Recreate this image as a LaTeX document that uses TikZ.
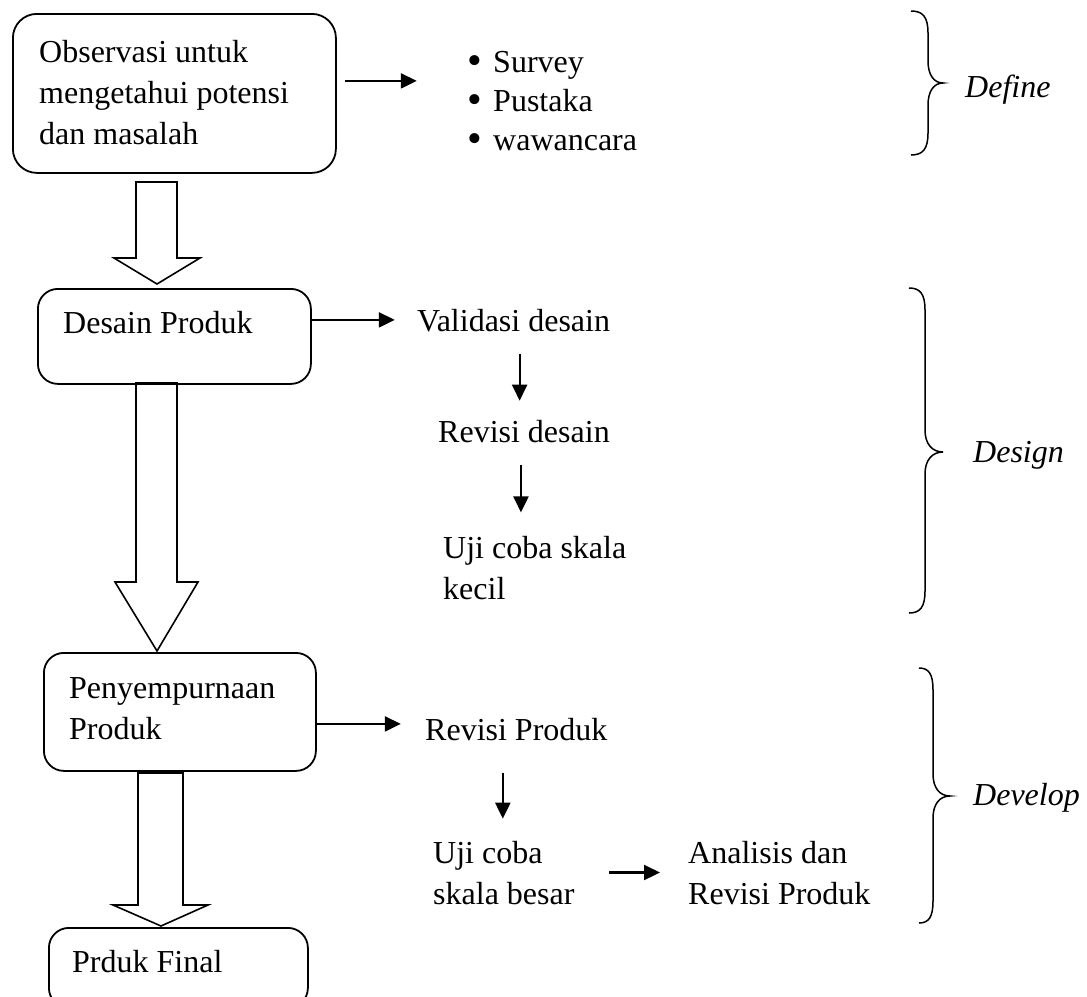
\documentclass[tikz,border=0pt]{standalone}
\usepackage{fontspec}
\setmainfont{Liberation Serif}
\usetikzlibrary{arrows.meta,calc}
\newcommand\mybrace[6]{% #1 end x, #2 stem x, #3 tip x, #4 top, #5 mid, #6 bottom
  \draw[brc] (#1,#4) .. controls ({#1+0.7*(#2-#1)},#4) and (#2,{#4+6}) .. (#2,{#4+22})
    -- (#2,{#5-22}) .. controls (#2,{#5-8}) and ({#2+0.4*(#3-#2)},#5) .. (#3,#5)
    .. controls ({#2+0.4*(#3-#2)},#5) and (#2,{#5+8}) .. (#2,{#5+22})
    -- (#2,{#6-22}) .. controls (#2,{#6-6}) and ({#1+0.7*(#2-#1)},#6) .. (#1,#6);}
\newcommand\bigbul{\raisebox{-2.5pt}{\fontsize{42}{39}\selectfont •}\hspace{10.7pt}}
\begin{document}
\begin{tikzpicture}[x=1pt,y=-1pt,
  box/.style={draw, line width=1.8pt, rounded corners=20pt, anchor=north west, inner sep=0pt},
  txt/.style={inner sep=0pt, anchor=north west, align=left, font=\fontsize{32}{41}\selectfont},
  lab/.style={inner sep=0pt, anchor=base west, font=\fontsize{32}{41}\selectfont\itshape},
  arr/.style={line width=2.2pt, -{Triangle[length=16pt,width=15pt]}},
  hol/.style={draw, line width=1.6pt, fill=white, line join=miter},
  brc/.style={line width=1.5pt}]
\useasboundingbox (0,0) rectangle (1087,996);
\clip (0,0) rectangle (1087,996);

% hollow arrows
\draw[hol] (136,182) -- (177,182) -- (177,258) -- (200,258) -- (157,284) -- (114,258) -- (136,258) -- cycle;
\draw[hol] (136,383) -- (177,383) -- (177,582) -- (198,582) -- (157,651) -- (115,582) -- (136,582) -- cycle;
\draw[hol] (138,773) -- (183,773) -- (183,905) -- (208,905) -- (161,926) -- (113,905) -- (138,905) -- cycle;

% boxes
\node[box, rounded corners=24pt, minimum width=323pt, minimum height=159pt] (b1) at (12,13) {};
\node[box, minimum width=273pt, minimum height=95pt] (b2) at (37,288) {};
\node[box, minimum width=272pt, minimum height=118pt] (b3) at (43,652) {};
\node[box, minimum width=259pt, minimum height=80pt] (b4) at (48,927) {};

% box texts
\node[txt] (t1) at (39,33.3) {\strut Observasi untuk\\mengetahui potensi\\dan masalah};
\node[txt] (t2) at (63,304.3) {\strut Desain Produk};
\node[txt] (t3) at (69,669.3) {\strut Penyempurnaan\\Produk};
\node[txt] (t4) at (72,943.3) {\strut Prduk Final};

% right texts
\node[txt, font=\fontsize{32}{39}\selectfont] (bl) at (467.6,44.7)
  {\strut\bigbul Survey\\\bigbul Pustaka\\\bigbul wawancara};
\node[txt] (v1) at (417,302.3) {\strut Validasi desain};
\node[txt] (v2) at (438,413.3) {\strut Revisi desain};
\node[txt] (v3) at (443,529.3) {\strut Uji coba skala\\kecil};
\node[txt] (d1) at (425,711.3) {\strut Revisi Produk};
\node[txt] (d2) at (433,834.3) {\strut Uji coba\\skala besar};
\node[txt] (d3) at (688,834.3) {\strut Analisis dan\\Revisi Produk};

% phase labels
\node[lab] (l1) at (965,97) {Define};
\node[lab] (l2) at (973,462) {Design};
\node[lab] (l3) at (973,805) {Develop};

% arrows
\draw[arr] ($(b1.east)+(8,-12.5)$) -- ++(72,0);
\draw[arr] ($(b2.east)+(0,-16.5)$) -- ++(83,0);
\draw[arr] ($(b3.east)+(0,12)$) -- ++(84,0);
\draw[arr] ($(v1.south)+(6,10)$) -- ++(0,47);
\draw[arr] ($(v2.south)+(-3,10.7)$) -- ++(0,47);
\draw[arr] ($(d1.south)+(-13.5,20)$) -- ++(0,46);
\draw[arr] ($(d3.west)+(-79,3)$) -- ($(d3.west)+(-28,3)$);

% braces
\mybrace{911}{928}{943}{11}{83}{155}
\mybrace{909}{925}{943}{288}{452}{613}
\mybrace{919}{933}{950}{668}{796}{923}
\end{tikzpicture}
\end{document}
